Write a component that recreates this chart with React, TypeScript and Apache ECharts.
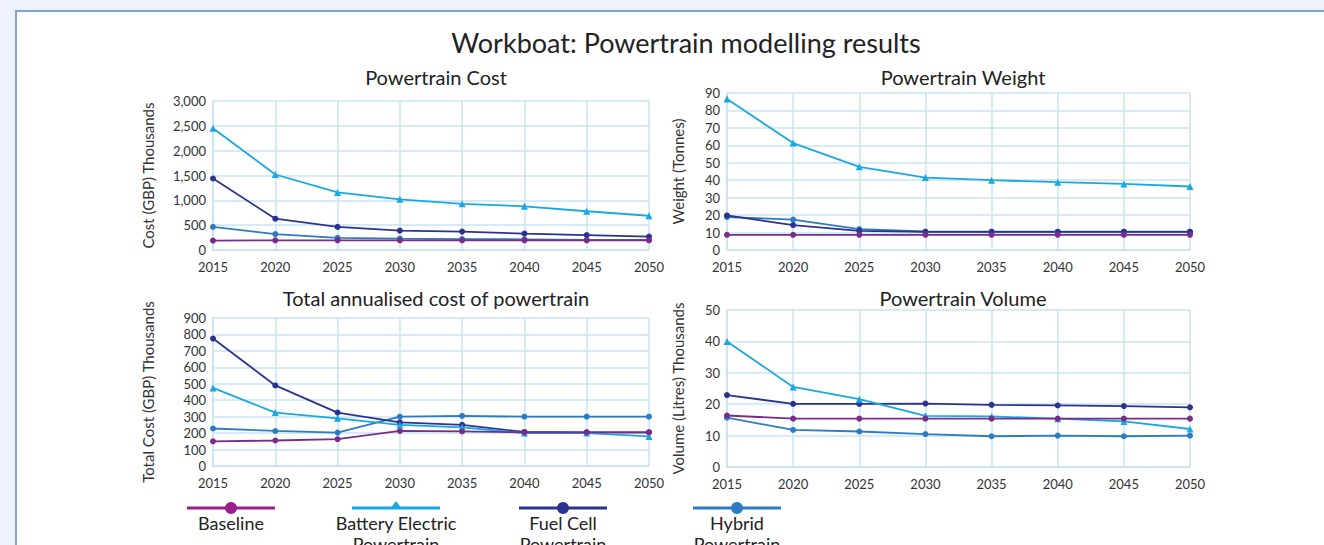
import React, { useEffect, useRef } from "react";
import * as echarts from "echarts";

const years = ["2015", "2020", "2025", "2030", "2035", "2040", "2045", "2050"];

// Powertrain Cost (GBP thousands)
const costBaseline = [190, 195, 195, 195, 195, 195, 195, 195];
const costBattery = [2450, 1520, 1160, 1020, 930, 880, 780, 690];
const costFuelCell = [1440, 630, 465, 390, 370, 330, 300, 270];
const costHybrid = [465, 320, 245, 230, 220, 215, 205, 205];

// Powertrain Weight (tonnes)
const weightBaseline = [8.7, 8.7, 8.7, 8.7, 8.7, 8.7, 8.7, 8.7];
const weightBattery = [86.5, 61.3, 47.7, 41.5, 40, 38.9, 37.9, 36.4];
const weightFuelCell = [19.8, 14.3, 11, 10.4, 10.4, 10.4, 10.4, 10.4];
const weightHybrid = [18.9, 17.4, 12, 10.6, 10.5, 10.5, 10.5, 10.5];

// Total annualised cost (GBP thousands)
const annualBaseline = [150, 155, 163, 213, 210, 205, 205, 205];
const annualBattery = [475, 325, 290, 250, 235, 200, 200, 180];
const annualFuelCell = [775, 490, 325, 265, 250, 207, 205, 205];
const annualHybrid = [228, 213, 203, 300, 305, 300, 300, 300];

// Powertrain Volume (litres thousands)
const volBaseline = [16.4, 15.4, 15.4, 15.4, 15.4, 15.4, 15.4, 15.4];
const volBattery = [40, 25.5, 21.6, 16.3, 16.1, 15.4, 14.5, 12.1];
const volFuelCell = [22.9, 20.1, 20.1, 20.2, 19.8, 19.6, 19.4, 19.0];
const volHybrid = [15.7, 11.8, 11.3, 10.5, 9.8, 10, 9.8, 10];

const seriesNames = ["Baseline", "Battery Electric\nPowertrain", "Fuel Cell\nPowertrain", "Hybrid\nPowertrain"];
const colors = ["#7a2b8c", "#19a8e2", "#2b3390", "#2b7cc3"];
const legendColors = ["#9a1f8c", "#19a8e2", "#2b3390", "#2b7cc3"];
const symbols = ["circle", "triangle", "circle", "circle"];

const FONT = "Lato";
const GRID_COLOR = "#c9e4ef";

export default function App() {
  const ref = useRef<HTMLDivElement>(null);
  useEffect(() => {
    const chart = echarts.init(ref.current!, null, { renderer: "svg" });

    const grids = [
      { left: 213, top: 101, width: 436, height: 149 },
      { left: 727, top: 93, width: 463, height: 157 },
      { left: 213, top: 318, width: 436, height: 148 },
      { left: 727, top: 310, width: 463, height: 157 },
    ];
    const yCfg = [
      { max: 3000, interval: 500, name: "Cost (GBP) Thousands", gap: 58, comma: true },
      { max: 90, interval: 10, name: "Weight (Tonnes)", gap: 42, comma: false },
      { max: 900, interval: 100, name: "Total Cost (GBP) Thousands", gap: 58, comma: false },
      { max: 50, interval: 10, name: "Volume (Litres) Thousands", gap: 42, comma: false },
    ];
    const data = [
      [costBaseline, costBattery, costFuelCell, costHybrid],
      [weightBaseline, weightBattery, weightFuelCell, weightHybrid],
      [annualBaseline, annualBattery, annualFuelCell, annualHybrid],
      [volBaseline, volBattery, volFuelCell, volHybrid],
    ];

    const xAxis = grids.map((_, i) => ({
      type: "category",
      gridIndex: i,
      data: years,
      boundaryGap: false,
      axisLine: { lineStyle: { color: GRID_COLOR, width: 1.5 } },
      axisTick: { show: false },
      splitLine: { show: true, lineStyle: { color: GRID_COLOR, width: 1.5 } },
      axisLabel: { color: "#333", fontSize: 13, fontFamily: FONT, margin: 10 },
    }));
    const yAxis = yCfg.map((c, i) => ({
      type: "value",
      gridIndex: i,
      min: 0,
      max: c.max,
      interval: c.interval,
      name: c.name,
      nameLocation: "middle",
      nameRotate: 90,
      nameGap: c.gap,
      nameTextStyle: { color: "#333", fontSize: 15, fontFamily: FONT },
      axisLine: { show: true, lineStyle: { color: GRID_COLOR, width: 1.5 } },
      axisTick: { show: false },
      splitLine: { show: true, lineStyle: { color: GRID_COLOR, width: 1.5 } },
      axisLabel: {
        color: "#333",
        fontSize: 13,
        fontFamily: FONT,
        margin: 7,
        formatter: (v: number) => (c.comma ? v.toLocaleString("en-US") : String(v)),
      },
    }));

    const series: any[] = [];
    const order = [3, 2, 1, 0];
    data.forEach((set, gi) => {
      order.forEach((si) => {
        series.push({
          type: "line",
          name: seriesNames[si],
          xAxisIndex: gi,
          yAxisIndex: gi,
          data: set[si],
          symbol: symbols[si],
          symbolSize: si === 1 ? 7 : 6,
          showSymbol: true,
          lineStyle: { color: colors[si], width: 1.8 },
          itemStyle: { color: colors[si] },
        });
      });
    });

    const legendCenters = [231, 396, 563, 737];
    const legendGraphics: any[] = [];
    legendCenters.forEach((cx, i) => {
      legendGraphics.push({
        type: "line",
        shape: { x1: cx - 44, y1: 508, x2: cx + 44, y2: 508 },
        style: { stroke: legendColors[i], lineWidth: 3 },
      });
      if (symbols[i] === "triangle") {
        legendGraphics.push({
          type: "polygon",
          shape: { points: [[cx, 501], [cx - 6, 509], [cx + 6, 509]] },
          style: { fill: legendColors[i] },
        });
      } else {
        legendGraphics.push({
          type: "circle",
          shape: { cx, cy: 508, r: 6 },
          style: { fill: legendColors[i] },
        });
      }
      legendGraphics.push({
        type: "text",
        x: cx,
        y: 512,
        style: {
          text: seriesNames[i],
          textAlign: "center",
          fill: "#222",
          font: `18px ${FONT}`,
          lineHeight: 21,
        },
      });
    });

    const subStyle = { fontSize: 20, fontWeight: "normal", color: "#222", fontFamily: FONT };
    chart.setOption({
      animation: false,
      backgroundColor: "#eef2fa",
      title: [
        { text: "Workboat: Powertrain modelling results", left: 681, top: 24, textAlign: "center", textStyle: { fontSize: 27, fontWeight: "normal", color: "#222", fontFamily: FONT } },
        { text: "Powertrain Cost", left: 431, top: 62, textAlign: "center", textStyle: subStyle },
        { text: "Powertrain Weight", left: 958, top: 62, textAlign: "center", textStyle: subStyle },
        { text: "Total annualised cost of powertrain", left: 431, top: 283, textAlign: "center", textStyle: subStyle },
        { text: "Powertrain Volume", left: 958, top: 283, textAlign: "center", textStyle: subStyle },
      ],
      graphic: [
        {
          type: "rect",
          z: -10,
          shape: { x: 16, y: 11, width: 1400, height: 600 },
          style: { fill: "#ffffff", stroke: "#7ba4d9", lineWidth: 2 },
        },
        ...legendGraphics,
      ],
      grid: grids,
      xAxis,
      yAxis,
      series,
    });
    return () => chart.dispose();
  }, []);
  return <div ref={ref} style={{ position: "absolute", left: 0, top: 0, width: 1324, height: 545 }} />;
}
